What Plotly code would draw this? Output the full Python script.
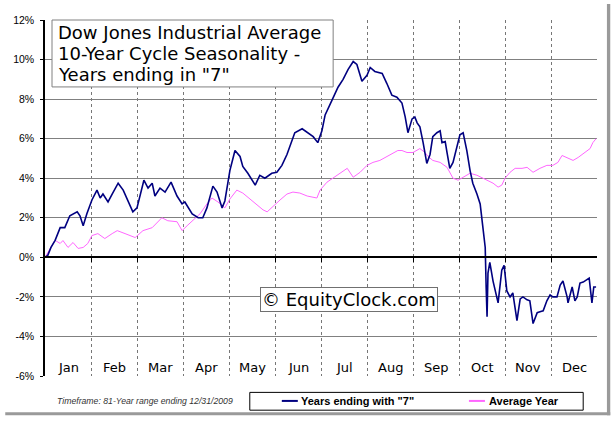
import plotly.graph_objects as go

# positions along the year in month units (0 = Jan 1, 12 = Dec 31)
months = ['Jan', 'Feb', 'Mar', 'Apr', 'May', 'Jun', 'Jul', 'Aug', 'Sep', 'Oct', 'Nov', 'Dec']
y_ticks = [-6, -4, -2, 0, 2, 4, 6, 8, 10, 12]
title_lines = ['Dow Jones Industrial Average', '10-Year Cycle Seasonality -', 'Years ending in "7"']

seven_x = [0.00, 0.06, 0.13, 0.22, 0.33, 0.43, 0.54, 0.70, 0.76, 0.83, 0.91, 1.02, 1.13, 1.20,
           1.26, 1.37, 1.46, 1.59, 1.70, 1.80, 1.91, 2.00, 2.15, 2.24, 2.33, 2.39, 2.50, 2.61,
           2.74, 2.87, 2.98, 3.04, 3.20, 3.33, 3.43, 3.52, 3.65, 3.74, 3.85, 3.91, 4.02, 4.13,
           4.24, 4.30, 4.41, 4.57, 4.67, 4.78, 4.93, 5.04, 5.15, 5.26, 5.37, 5.43, 5.59, 5.70,
           5.83, 5.93, 6.02, 6.09, 6.20, 6.26, 6.37, 6.48, 6.59, 6.70, 6.78, 6.89, 7.00, 7.07,
           7.17, 7.33, 7.43, 7.54, 7.65, 7.76, 7.83, 7.89, 7.98, 8.04, 8.09, 8.15, 8.22, 8.30,
           8.37, 8.43, 8.52, 8.59, 8.63, 8.70, 8.74, 8.80, 8.87, 8.96, 9.02, 9.09, 9.17, 9.24,
           9.30, 9.39, 9.46, 9.52, 9.57, 9.59, 9.61, 9.63, 9.67, 9.74, 9.83, 9.85, 9.93, 9.98,
           10.04, 10.11, 10.17, 10.26, 10.33, 10.39, 10.48, 10.54, 10.61, 10.70, 10.76, 10.83,
           10.91, 10.98, 11.04, 11.13, 11.20, 11.26, 11.35, 11.37, 11.46, 11.52, 11.57, 11.63,
           11.70, 11.83, 11.89, 11.93, 11.98]
seven_pct = [0.0, 0.1, 0.5, 0.86, 1.5, 1.5, 2.1, 2.3, 2.1, 1.6, 2.2, 2.9, 3.4, 3.0,
             3.2, 2.8, 3.2, 3.75, 3.4, 2.9, 2.3, 2.5, 3.9, 3.5, 3.75, 3.1, 3.5, 3.3,
             3.8, 3.1, 2.7, 2.8, 2.2, 2.0, 2.0, 2.5, 3.6, 3.3, 2.5, 2.85, 4.4, 5.4,
             5.1, 4.6, 4.25, 3.65, 4.15, 4.0, 4.25, 4.3, 4.65, 5.2, 5.9, 6.3, 6.5, 6.3,
             6.1, 5.8, 6.4, 7.2, 7.8, 8.05, 8.6, 9.0, 9.5, 9.9, 9.75, 8.9, 9.2, 9.6,
             9.4, 9.3, 8.8, 8.2, 8.1, 7.8, 7.1, 6.3, 7.0, 7.1, 6.8, 6.6, 5.8, 4.75,
             5.2, 6.1, 6.3, 6.4, 5.8, 5.85, 5.3, 4.5, 4.8, 5.6, 6.2, 6.3, 5.4, 4.4,
             3.75, 3.2, 2.7, 1.5, 0.5, -1.5, -3.0, -0.8, -0.25, -1.2, -2.0, -2.3, -0.65, -0.4,
             -1.7, -2.0, -1.8, -3.2, -2.1, -2.0, -2.15, -2.2, -3.35, -2.8, -2.75, -2.7,
             -2.2, -1.9, -2.0, -2.0, -1.4, -1.2, -2.0, -2.3, -1.5, -2.2, -2.0, -1.3,
             -1.25, -1.05, -2.3, -1.5, -1.5]

avg_x = [0.00, 0.22, 0.33, 0.39, 0.50, 0.61, 0.72, 0.83, 0.93, 1.02, 1.15, 1.30, 1.46, 1.57,
         1.74, 1.96, 2.13, 2.33, 2.54, 2.67, 2.87, 2.98, 3.09, 3.22, 3.37, 3.52, 3.63, 3.76,
         3.91, 4.02, 4.17, 4.30, 4.52, 4.74, 4.83, 4.96, 5.11, 5.26, 5.39, 5.54, 5.70, 5.91,
         5.98, 6.13, 6.26, 6.41, 6.57, 6.70, 6.85, 7.00, 7.13, 7.28, 7.50, 7.67, 7.76, 7.87,
         8.00, 8.15, 8.26, 8.33, 8.43, 8.59, 8.74, 8.87, 8.98, 9.09, 9.24, 9.39, 9.52, 9.63,
         9.74, 9.85, 9.93, 10.00, 10.11, 10.22, 10.37, 10.48, 10.61, 10.76, 10.91, 11.04,
         11.15, 11.24, 11.37, 11.48, 11.59, 11.70, 11.85, 11.91, 11.98]
avg_pct = [0.0, 0.86, 0.7, 0.85, 0.5, 0.75, 0.45, 0.5, 0.7, 1.1, 1.2, 0.95, 1.2, 1.35,
           1.2, 1.0, 1.35, 1.5, 2.0, 1.85, 1.8, 1.35, 1.6, 1.9, 2.2, 2.7, 3.0, 2.8,
           2.5, 2.95, 3.4, 3.25, 2.8, 2.4, 2.3, 2.6, 2.9, 3.2, 3.3, 3.25, 3.1, 3.0,
           3.4, 3.8, 4.0, 4.25, 4.5, 4.05, 4.3, 4.65, 4.8, 4.9, 5.2, 5.4, 5.4, 5.3,
           5.3, 5.5, 5.3, 5.1, 4.9, 4.8, 4.55, 4.0, 3.9, 4.05, 4.25, 4.15, 4.0, 3.9,
           3.75, 3.55, 3.65, 4.0, 4.3, 4.5, 4.5, 4.55, 4.3, 4.5, 4.65, 4.65,
           4.8, 5.15, 5.0, 4.9, 5.05, 5.25, 5.5, 5.8, 6.0]

NAVY = '#000080'
PINK = '#FF66FF'

fig = go.Figure()
fig.add_trace(go.Scatter(x=avg_x, y=avg_pct, mode='lines', name='Average Year',
                         line=dict(color=PINK, width=1), showlegend=False))
fig.add_trace(go.Scatter(x=seven_x, y=seven_pct, mode='lines', name='Years ending with "7"',
                         line=dict(color=NAVY, width=1.6), showlegend=False))

# month names sit inside the plot, just above the -6% edge
for i, m in enumerate(months):
    fig.add_annotation(x=i + 0.5, y=-5.55, xref='x', yref='y', text=m, showarrow=False,
                       yanchor='middle', font=dict(family='DejaVu Sans', size=13, color='black'))

# title box: white rect + one annotation per line (tighter line spacing than <br>)
fig.add_shape(type='rect', xref='paper', yref='paper', x0=0.0127, x1=0.522, y0=1.0, y1=0.812,
              line=dict(color='#808080', width=1), fillcolor='white', layer='above')
for k, line in enumerate(title_lines):
    fig.add_annotation(x=0.0195, y=0.966 - k * 0.059, xref='paper', yref='paper',
                       xanchor='left', yanchor='middle', text=line, showarrow=False,
                       font=dict(family='DejaVu Sans', size=18, color='black'))

fig.add_annotation(x=0.551, y=-2.13, xref='paper', yref='y', text='© EquityClock.com',
                   showarrow=False, bgcolor='white', bordercolor='#707070', borderwidth=1,
                   borderpad=1, yanchor='middle',
                   font=dict(family='DejaVu Sans', size=18, color='black'))

# footer + hand-built legend box
fig.add_annotation(x=0.344, y=-0.070, xref='paper', yref='paper', xanchor='right',
                   yanchor='middle', text='<i>Timeframe: 81-Year range ending 12/31/2009</i>',
                   showarrow=False, font=dict(family='Liberation Sans', size=8.7, color='#333333'))
fig.add_shape(type='rect', xref='paper', yref='paper', x0=0.371, x1=0.975, y0=-0.046, y1=-0.096,
              line=dict(color='black', width=1), fillcolor='white')
fig.add_shape(type='line', xref='paper', yref='paper', x0=0.429, x1=0.458, y0=-0.070, y1=-0.070,
              line=dict(color=NAVY, width=2))
fig.add_annotation(x=0.460, y=-0.070, xref='paper', yref='paper', xanchor='left',
                   yanchor='middle', text='<b>Years ending with "7"</b>', showarrow=False,
                   font=dict(family='Liberation Sans', size=11, color='black'))
fig.add_shape(type='line', xref='paper', yref='paper', x0=0.768, x1=0.797, y0=-0.070, y1=-0.070,
              line=dict(color=PINK, width=2))
fig.add_annotation(x=0.801, y=-0.070, xref='paper', yref='paper', xanchor='left',
                   yanchor='middle', text='<b>Average Year</b>', showarrow=False,
                   font=dict(family='Liberation Sans', size=11, color='black'))

# drop shadow along right and bottom of the picture frame
fig.add_shape(type='rect', xref='paper', yref='paper', x0=1.018, x1=1.024, y0=-0.110, y1=1.045,
              line=dict(width=0), fillcolor='#9a9a9a', layer='below')
fig.add_shape(type='rect', xref='paper', yref='paper', x0=-0.072, x1=1.024, y0=-0.110, y1=-0.102,
              line=dict(width=0), fillcolor='#9a9a9a', layer='below')

fig.update_layout(
    width=613, height=422,
    margin=dict(l=45, r=16, t=20, b=46),
    paper_bgcolor='white', plot_bgcolor='white',
    showlegend=False,
    xaxis=dict(range=[0, 12], tickvals=list(range(1, 12)), showticklabels=False,
               showgrid=True, gridcolor='#777777', griddash='dot', gridwidth=1,
               zeroline=False, showline=True, linecolor='black', linewidth=1.5,
               anchor='free', position=1 / 3, ticks='outside', ticklen=4, tickcolor='black',
               fixedrange=True),
    yaxis=dict(range=[-6, 12], tickvals=y_ticks, ticktext=[f'{v}%' for v in y_ticks],
               showgrid=True, gridcolor='#808080', gridwidth=1,
               zeroline=True, zerolinecolor='black', zerolinewidth=1.5,
               showline=True, linecolor='black', linewidth=1.5,
               ticks='outside', ticklen=3, tickcolor='black', ticklabelstandoff=4,
               tickfont=dict(family='Liberation Sans', size=10.5, color='black')),
)

# drop the browser's default 8px body margin so the figure fills the window
fig.write_html("out.html", config={'displayModeBar': False},
               post_script="document.body.style.margin='0';")
